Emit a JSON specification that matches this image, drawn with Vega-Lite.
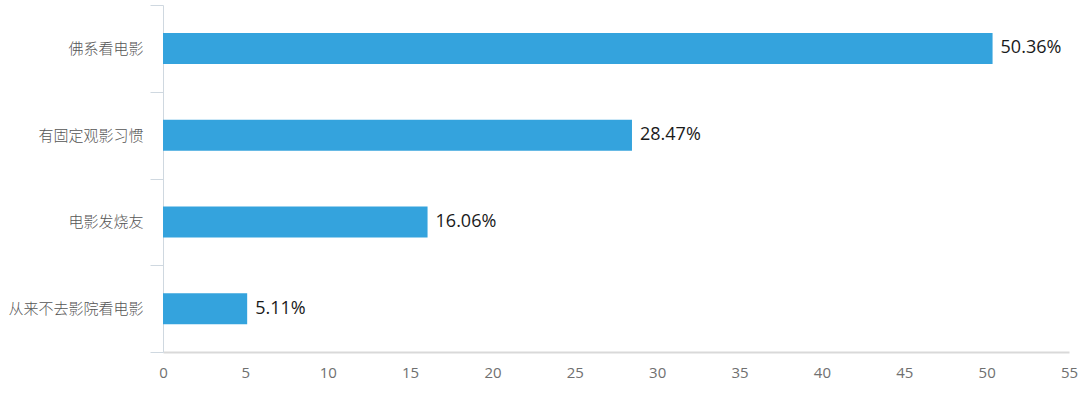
{
  "$schema": "https://vega.github.io/schema/vega-lite/v6.json",
  "autosize": "none",
  "padding": {"left": 163, "top": 5, "right": 11, "bottom": 43},
  "width": 906,
  "height": 347,
  "background": "white",
  "config": {"view": {"stroke": null}},
  "data": {
    "values": [
      {"category": "佛系看电影", "value": 50.36, "label": "50.36%"},
      {"category": "有固定观影习惯", "value": 28.47, "label": "28.47%"},
      {"category": "电影发烧友", "value": 16.06, "label": "16.06%"},
      {"category": "从来不去影院看电影", "value": 5.11, "label": "5.11%"}
    ]
  },
  "encoding": {
    "y": {
      "field": "category",
      "type": "nominal",
      "sort": null,
      "scale": {"paddingInner": 0, "paddingOuter": 0},
      "axis": {
        "title": null,
        "tickBand": "extent",
        "tickSize": 13,
        "tickColor": "#cfd8e0",
        "domainColor": "#cfd8e0",
        "labelFont": "Noto Sans CJK SC",
        "labelFontSize": 15,
        "labelFontWeight": 300,
        "labelColor": "#555555",
        "labelPadding": 7
      }
    },
    "x": {
      "field": "value",
      "type": "quantitative",
      "scale": {"domain": [0, 55], "nice": false},
      "axis": {
        "title": null,
        "values": [0, 5, 10, 15, 20, 25, 30, 35, 40, 45, 50, 55],
        "grid": false,
        "ticks": false,
        "domainColor": "#d9d9d9",
        "domainWidth": 2,
        "labelFont": "Open Sans",
        "labelFontSize": 15,
        "labelColor": "#707070",
        "labelPadding": 13,
        "labelFlush": false
      }
    }
  },
  "layer": [
    {"mark": {"type": "bar", "color": "#34a3dd", "size": 31}},
    {
      "mark": {"type": "text", "align": "left", "dx": 8, "font": "Open Sans", "fontSize": 18, "color": "#1a1a1a"},
      "encoding": {"text": {"field": "label"}}
    }
  ]
}
